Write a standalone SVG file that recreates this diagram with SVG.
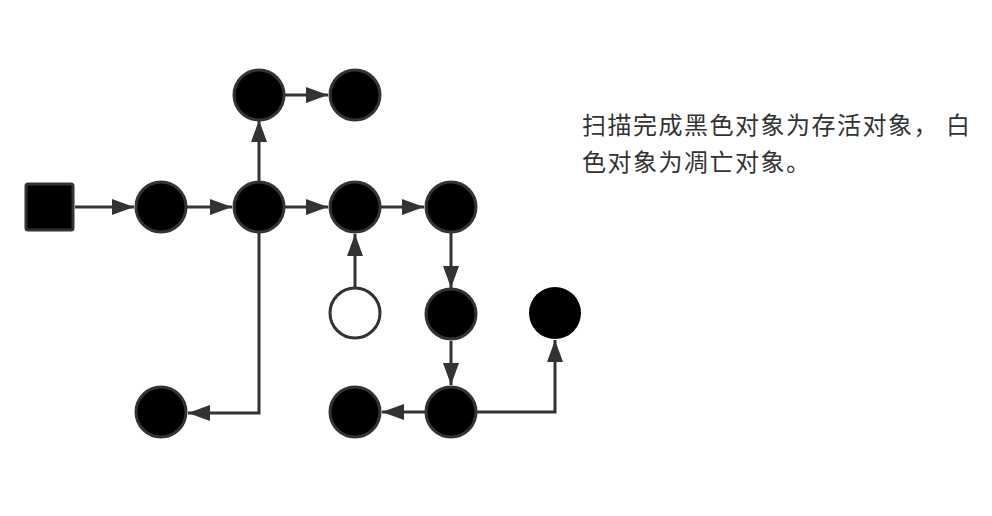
<svg xmlns="http://www.w3.org/2000/svg" width="992" height="516" viewBox="0 0 992 516">
<style>
.n{fill:#000;stroke:#333;stroke-width:3}
.w{fill:#fff;stroke:#333;stroke-width:3}
.e{fill:none;stroke:#333;stroke-width:3}
.t{font-family:"Noto Sans CJK SC","Noto Sans",sans-serif;font-size:24px;fill:#333;letter-spacing:1.5px}
</style>
<defs>
<marker id="a" viewBox="0 0 22 16" refX="22" refY="8" markerWidth="22" markerHeight="16" markerUnits="userSpaceOnUse" orient="auto">
<path d="M0,0L22,8L0,16z" fill="#333"/>
</marker>
</defs>
<rect width="992" height="516" fill="#fff"/>
<g id="edges">
<line class="e" x1="75" y1="207" x2="134" y2="207" marker-end="url(#a)"/>
<line class="e" x1="187" y1="207" x2="232" y2="207" marker-end="url(#a)"/>
<line class="e" x1="259" y1="181" x2="259" y2="120" marker-end="url(#a)"/>
<line class="e" x1="285" y1="95" x2="328" y2="95" marker-end="url(#a)"/>
<line class="e" x1="285" y1="207" x2="328" y2="207" marker-end="url(#a)"/>
<line class="e" x1="381" y1="207" x2="424" y2="207" marker-end="url(#a)"/>
<line class="e" x1="355" y1="287" x2="355" y2="234" marker-end="url(#a)"/>
<line class="e" x1="451" y1="233" x2="451" y2="288" marker-end="url(#a)"/>
<line class="e" x1="451" y1="341" x2="451" y2="385" marker-end="url(#a)"/>
<line class="e" x1="425" y1="412" x2="382" y2="412" marker-end="url(#a)"/>
<polyline class="e" points="259,233 259,413 188,413" marker-end="url(#a)"/>
<polyline class="e" points="477,412 555,412 555,340" marker-end="url(#a)"/>
</g>
<g id="root"><rect class="n" x="26" y="184" width="47" height="46" rx="2"/></g>
<g id="n1"><circle class="n" cx="161" cy="207" r="25"/></g>
<g id="n2"><circle class="n" cx="259" cy="207" r="25"/></g>
<g id="n3"><circle class="n" cx="259" cy="95" r="25"/></g>
<g id="n4"><circle class="n" cx="355" cy="95" r="25"/></g>
<g id="n5"><circle class="n" cx="355" cy="207" r="25"/></g>
<g id="n6"><circle class="n" cx="451" cy="207" r="25"/></g>
<g id="n7"><circle class="w" cx="355" cy="313" r="25"/></g>
<g id="n8"><circle class="n" cx="451" cy="314" r="25"/></g>
<g id="n9"><circle cx="555" cy="313" r="26" fill="#000"/></g>
<g id="n10"><circle class="n" cx="451" cy="412" r="25"/></g>
<g id="n11"><circle class="n" cx="355" cy="412" r="25"/></g>
<g id="n12"><circle class="n" cx="161" cy="412" r="25"/></g>
<g id="note">
<text class="t" x="582" y="134">扫描完成黑色对象为存活对象，<tspan x="946">白</tspan></text>
<text class="t" x="582" y="171">色对象为凋亡对象。</text>
</g>
</svg>
